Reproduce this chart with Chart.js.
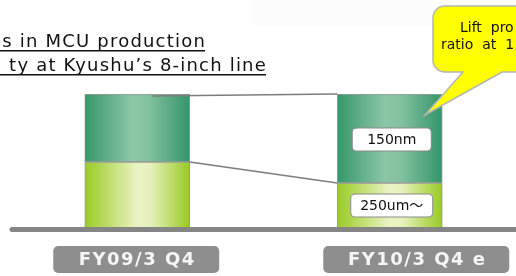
<!DOCTYPE html>
<html>
<head>
<meta charset="utf-8">
<script src="https://cdn.jsdelivr.net/npm/chart.js@4/dist/chart.umd.min.js"></script>
<style>
  html, body { margin: 0; padding: 0; background: #fff; }
  #wrap { width: 516px; height: 276px; position: relative; }
</style>
</head>
<body>
<div id="wrap"><canvas id="capChart" width="516" height="276"></canvas></div>
<script>
// capacity share per period (percent of 8-inch line)
const categories = ["FY09/3 Q4", "FY10/3 Q4 e"];
const share250um = [50.7, 35.5];
const share150nm = [49.3, 64.5];
const segmentLabels = ["250um～", "150nm"];
const titleLines = ["s in MCU production", "ty at Kyushu\u2019s 8-inch line"];
const calloutLines = ["Lift  pro", "ratio  at  1"];

const BAR_W = 105;

function barGradient(context, dark) {
    const chart = context.chart;
    const x = chart.scales && chart.scales.x;
    if (!x || !chart.chartArea) return dark ? "#5aae84" : "#c8e27a";
    const cx = x.getPixelForValue(context.dataIndex);
    const g = chart.ctx.createLinearGradient(cx - BAR_W / 2, 0, cx + BAR_W / 2, 0);
    if (dark) {
        g.addColorStop(0, "#36976a");
        g.addColorStop(0.45, "#8cc6a6");
        g.addColorStop(0.6, "#84c29f");
        g.addColorStop(1, "#33956a");
    } else {
        g.addColorStop(0, "#9acb24");
        g.addColorStop(0.5, "#eaf3c4");
        g.addColorStop(0.62, "#e6f1bd");
        g.addColorStop(1, "#99ca22");
    }
    return g;
}

const decor = {
    id: "decor",
    beforeDraw(chart) {
        const ctx = chart.ctx;
        ctx.save();
        ctx.fillStyle = "#ffffff";
        ctx.fillRect(0, 0, chart.width, chart.height);
        ctx.fillStyle = "#fcfcfc";
        ctx.fillRect(253, 0, 200, 26);
        ctx.restore();
    },
    afterDatasetsDraw(chart) {
        const ctx = chart.ctx;
        const low = chart.getDatasetMeta(0).data;
        const up = chart.getDatasetMeta(1).data;
        ctx.save();

        // connector lines between the two bars
        ctx.strokeStyle = "#7d7d7d";
        ctx.lineWidth = 1.5;
        ctx.beginPath();
        ctx.moveTo(up[0].x + 15, up[0].y + 2);
        ctx.lineTo(up[1].x - BAR_W / 2, up[1].y);
        ctx.moveTo(low[0].x + BAR_W / 2, low[0].y);
        ctx.lineTo(low[1].x - BAR_W / 2, low[1].y);
        ctx.stroke();

        // base line
        const baseY = chart.chartArea.bottom - 2.5;
        ctx.strokeStyle = "#858585";
        ctx.lineWidth = 5;
        ctx.lineCap = "round";
        ctx.beginPath();
        ctx.moveTo(12, baseY);
        ctx.lineTo(chart.width + 5, baseY);
        ctx.stroke();

        // segment labels on the second bar
        ctx.font = "14px 'DejaVu Sans', 'Noto Sans CJK JP'";
        ctx.textAlign = "center";
        ctx.textBaseline = "middle";
        const boxes = [
            { el: low[1], text: segmentLabels[0], w: 82, dy: -2 },
            { el: up[1], text: segmentLabels[1], w: 79, dy: 1 }
        ];
        boxes.forEach(b => {
            const cy = (b.el.y + b.el.base) / 2 + b.dy;
            const cx = b.el.x + 2;
            ctx.fillStyle = "#ffffff";
            ctx.strokeStyle = "#8a8a8a";
            ctx.lineWidth = 1;
            ctx.beginPath();
            ctx.roundRect(cx - b.w / 2, cy - 11.5, b.w, 23, 4);
            ctx.fill();
            ctx.stroke();
            ctx.fillStyle = "#111";
            ctx.fillText(b.text, cx, cy + 1);
        });

        // category labels
        const cats = [
            { cx: low[0].x - 1, w: 166 },
            { cx: low[1].x + 26.5, w: 186 }
        ];
        ctx.font = "bold 18px 'DejaVu Sans'";
        ctx.letterSpacing = "1.5px";
        cats.forEach((c, i) => {
            ctx.fillStyle = "#8e8e8e";
            ctx.beginPath();
            ctx.roundRect(c.cx - c.w / 2, 246, c.w, 27, 5);
            ctx.fill();
            ctx.fillStyle = "#f6f6f6";
            ctx.fillText(categories[i], c.cx + 1, 260.5);
        });
        ctx.letterSpacing = "0px";

        // callout bubble
        ctx.fillStyle = "#ffff00";
        ctx.strokeStyle = "#b4b4b4";
        ctx.lineWidth = 1.5;
        ctx.beginPath();
        ctx.moveTo(445, 6);
        ctx.lineTo(540, 6);
        ctx.lineTo(540, 72);
        ctx.lineTo(502, 72);
        ctx.lineTo(425, 115);
        ctx.lineTo(463, 72);
        ctx.lineTo(445, 72);
        ctx.arcTo(433, 72, 433, 60, 12);
        ctx.lineTo(433, 18);
        ctx.arcTo(433, 6, 445, 6, 12);
        ctx.closePath();
        ctx.fill();
        ctx.stroke();
        ctx.fillStyle = "#111";
        ctx.font = "14px 'DejaVu Sans'";
        ctx.textAlign = "left";
        ctx.textBaseline = "alphabetic";
        ctx.fillText(calloutLines[0], 460, 32);
        ctx.fillText(calloutLines[1], 441, 49);

        // title lines, underlined
        ctx.font = "18px 'DejaVu Sans'";
        ctx.letterSpacing = "1.2px";
        ctx.textAlign = "left";
        const titles = [{ text: titleLines[0], right: 205, y: 47 }, { text: titleLines[1], right: 266, y: 71 }];
        titles.forEach(t => {
            const w = ctx.measureText(t.text).width;
            ctx.fillStyle = "#111";
            ctx.fillText(t.text, t.right - w + 1, t.y);
            ctx.fillRect(0, t.y + 3, t.right, 1.5);
        });
        ctx.restore();
    }
};

new Chart(document.getElementById("capChart"), {
    type: "bar",
    data: {
        labels: categories,
        datasets: [
            {
                label: "250um",
                data: share250um,
                backgroundColor: c => barGradient(c, false),
                borderColor: "#9a9a9a",
                borderWidth: 1,
                borderSkipped: false,
                barThickness: BAR_W
            },
            {
                label: "150nm",
                data: share150nm,
                backgroundColor: c => barGradient(c, true),
                borderColor: "#9a9a9a",
                borderWidth: 1,
                borderSkipped: false,
                barThickness: BAR_W
            }
        ]
    },
    options: {
        responsive: false,
        animation: false,
        layout: { padding: { left: 11, right: 0, top: 94, bottom: 44 } },
        plugins: { legend: { display: false }, tooltip: { enabled: false } },
        scales: {
            x: { stacked: true, display: false },
            y: { stacked: true, display: false, min: 0, max: 100 }
        }
    },
    plugins: [decor]
});
</script>
</body>
</html>
